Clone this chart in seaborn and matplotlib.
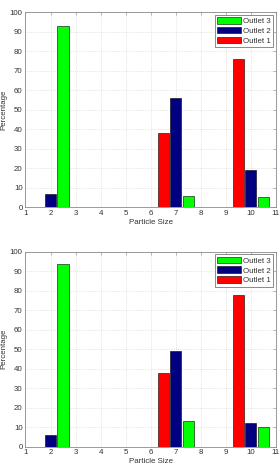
import pandas as pd
import seaborn as sns
import matplotlib.pyplot as plt

# particle size groups and outlet percentages
sizes = [2, 7, 10]
outlets = ['Outlet 1', 'Outlet 2', 'Outlet 3']

top_outlet1 = [0, 38, 76]
top_outlet2 = [7, 56, 19]
top_outlet3 = [93, 6, 5]

bot_outlet1 = [0, 38, 78]
bot_outlet2 = [6, 49, 12]
bot_outlet3 = [94, 13, 10]

palette = {'Outlet 1': '#ff0000', 'Outlet 2': '#000080', 'Outlet 3': '#00ff00'}

sns.set_style('white')
plt.rcParams['font.family'] = ['Liberation Sans', 'DejaVu Sans']
FS = 5.7
plt.rcParams['font.size'] = FS


def make_df(o1, o2, o3):
    rows = []
    for name, vals in zip(outlets, [o1, o2, o3]):
        for s, v in zip(sizes, vals):
            rows.append({'size': s, 'pct': v, 'outlet': name})
    return pd.DataFrame(rows)


def draw(ax, df):
    sns.barplot(data=df, x='size', y='pct', hue='outlet', hue_order=outlets,
                palette=palette, native_scale=True, width=0.5, gap=0.1,
                edgecolor='black', linewidth=0.4, saturation=1, ax=ax, zorder=3)
    ax.set_xlim(1, 11)
    ax.set_ylim(0, 100)
    ax.set_xticks(range(1, 12))
    ax.set_yticks(range(0, 101, 10))
    ax.set_xlabel('Particle Size', fontsize=FS, labelpad=1.5, color='#333333')
    ax.set_ylabel('Percentage', fontsize=FS, labelpad=2, color='#333333')
    ax.tick_params(direction='in', length=2, width=0.4, top=True, right=True,
                   labelsize=FS, pad=2, color='#888888', labelcolor='#333333')
    ax.grid(True, color='#d0d0d0', linestyle=':', linewidth=0.5, zorder=0)
    for sp in ax.spines.values():
        sp.set_linewidth(0.6)
        sp.set_color('#8a8a8a')
    handles, labels = ax.get_legend_handles_labels()
    leg = ax.legend(handles[::-1], labels[::-1], loc='upper right', fontsize=FS,
                    frameon=True, fancybox=False, edgecolor='#777777',
                    handlelength=3.0, handleheight=0.9, labelspacing=0.22,
                    borderpad=0.3, handletextpad=0.3, borderaxespad=0.3,
                    framealpha=1)
    leg.get_frame().set_linewidth(0.6)
    for t in leg.get_texts():
        t.set_color('#333333')


fig = plt.figure(figsize=(2.8, 4.71), dpi=100)
ax1 = fig.add_axes([0.091, 0.560, 0.894, 0.414])
ax2 = fig.add_axes([0.091, 0.052, 0.894, 0.413])

draw(ax1, make_df(top_outlet1, top_outlet2, top_outlet3))
draw(ax2, make_df(bot_outlet1, bot_outlet2, bot_outlet3))

fig.savefig('out.png', dpi=100)
